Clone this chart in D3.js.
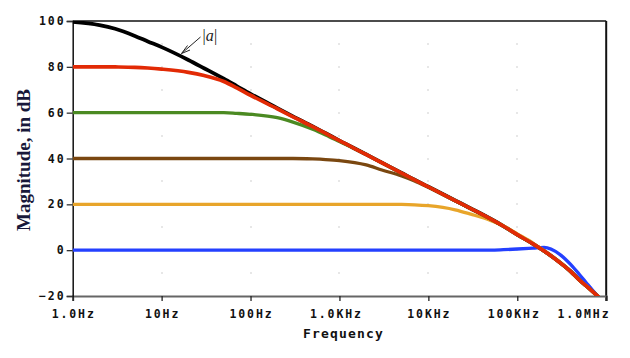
<!DOCTYPE html>
<html><head><meta charset="utf-8">
<script src="https://cdn.jsdelivr.net/npm/d3@7"></script>
<style>html,body{margin:0;padding:0;background:#fff;}svg{display:block;}</style>
</head><body>
<svg id="chart" width="630" height="358"></svg>
<script>
// ---- data ----
const freqs = [1,2,3,5,7,10,20,30,50,70,100,200,300,500,700,1e3,2e3,3e3,5e3,7e3,1e4,2e4,3e4,5e4,7e4,1e5,1.5e5,2e5,3e5,4e5,5e5,6e5,7e5,8e5,1e6];
const openLoop = [99.6,98.2,96.6,93.5,91.1,88.6,83.0,79.4,74.8,71.6,68.2,62.0,58.4,54.0,51.0,47.8,41.8,38.2,33.7,30.7,27.7,21.7,18.2,13.7,10.5,6.8,2.8,-0.3,-5.3,-9.3,-13.0,-15.6,-17.9,-20.0,-24.0];
const gain80 = [80,80,79.95,79.8,79.5,79.0,77.6,76.2,73.6,70.8,67.6,61.7,58.2,53.9,50.95,47.75,41.75,38.15,33.65,30.65,27.65,21.65,18.15,13.65,10.45,6.75,2.75,-0.35,-5.35,-9.35,-13.05,-15.65,-17.95,-20.05,-24.0];
const gain60 = [60,60,60,60,60,60,60,60,60,59.7,59.3,57.8,55.9,52.8,50.3,47.4,41.7,38.1,33.6,30.6,27.6,21.6,18.1,13.6,10.4,6.7,2.7,-0.4,-5.4,-9.4,-13.1,-15.7,-18.0,-20.1,-24.0];
const gain40 = [40,40,40,40,40,40,40,40,40,40,40,40,40,39.8,39.55,39.1,37.2,35.0,32.4,30.2,27.4,21.55,18.05,13.55,10.4,6.7,2.7,-0.4,-5.4,-9.4,-13.1,-15.7,-18.0,-20.1,-24.0];
const gain20 = [20,20,20,20,20,20,20,20,20,20,20,20,20,20,20,20,20,20,19.95,19.8,19.4,17.6,15.7,13.0,10.6,7.1,3.1,-0.2,-5.2,-9.3,-13.0,-15.6,-17.9,-20.0,-24.0];
const gain0 = [0,0,0,0,0,0,0,0,0,0,0,0,0,0,0,0,0,0,0,0,0,0,0,0,0.2,0.5,0.9,1.2,-1.8,-6.3,-10.6,-14.3,-17.4,-20.0,-24.5];
const xTicks = [1,10,100,1e3,1e4,1e5,1e6];
const xTickLabels = ["1.0Hz","10Hz","100Hz","1.0KHz","10KHz","100KHz","1.0MHz"];
const yTicks = [-20,0,20,40,60,80,100];
const gridDb = [-10,0,10,20,30,40,50,60,70,80,90];
const seriesNames = ["|a|","80 dB","60 dB","40 dB","20 dB","0 dB"];

// ---- layout ----
const L = 72.7, R = 606.2, T = 21, B = 296;
const svg = d3.select("#chart");
const x = d3.scaleLog().domain([1,1e6]).range([L,R]);
const y = d3.scaleLinear().domain([-20,100]).range([B,T]);

svg.append("defs").append("clipPath").attr("id","clip")
  .append("rect").attr("x",L).attr("y",T).attr("width",R-L).attr("height",B-T);

// grid dots
const gdots = svg.append("g");
xTicks.slice(1,-1).forEach(f=>{
  gridDb.forEach(v=>{
    gdots.append("rect").attr("x",Math.round(x(f))-0.5).attr("y",Math.round(y(v))-0.5)
      .attr("width",1).attr("height",1).attr("fill","#a0a0a0");
  });
});

// frame: top and right
svg.append("line").attr("x1",L).attr("x2",R).attr("y1",T).attr("y2",T).attr("stroke","#111").attr("stroke-width",1.5);
svg.append("line").attr("x1",R).attr("x2",R).attr("y1",T).attr("y2",B+5).attr("stroke","#111").attr("stroke-width",2);

const tickFont = "'DejaVu Sans Mono', monospace";
// x axis
const xAxis = d3.axisBottom(x).tickValues(xTicks).tickSize(5).tickFormat("");
const gx = svg.append("g").attr("transform",`translate(0,${B})`).call(xAxis);
gx.select(".domain").attr("stroke","#666").attr("stroke-width",2);
gx.selectAll(".tick line").attr("stroke","#222").attr("stroke-width",1.3);
xTicks.forEach((f,i)=>{
  const last = i===xTicks.length-1;
  const lab = xTickLabels[i];
  const shift = lab.length===6 && !last ? -4 : 0;
  svg.append("text").text(lab)
    .attr("x", last ? 610.5 : x(f)+shift+1)
    .attr("y",317.5)
    .attr("text-anchor", last ? "end" : "middle")
    .attr("font-family",tickFont).attr("font-weight","bold").attr("font-size","11.5px")
    .attr("letter-spacing","1.9px").attr("fill","#111");
});

// y axis
const yAxis = d3.axisLeft(y).tickValues(yTicks).tickSize(6).tickFormat("");
const gy = svg.append("g").attr("transform",`translate(${L},0)`).call(yAxis);
gy.select(".domain").attr("stroke","#111").attr("stroke-width",1.5);
gy.selectAll(".tick line").attr("stroke","#333").attr("stroke-width",1.3);
yTicks.forEach(v=>{
  svg.append("text").text(String(v).replace("-","\u2212"))
    .attr("x",65.5).attr("y",y(v)+4)
    .attr("text-anchor","end")
    .attr("font-family",tickFont).attr("font-weight","bold").attr("font-size","11.5px")
    .attr("letter-spacing","1.9px").attr("fill","#111");
});

// axis titles
svg.append("text").text("Frequency").attr("x",343.5).attr("y",337.5).attr("text-anchor","middle")
  .attr("font-family",tickFont).attr("font-weight","bold").attr("font-size","13px")
  .attr("letter-spacing","1.2px").attr("fill","#111");
svg.append("text").text("Magnitude, in dB")
  .attr("transform","translate(30,160) rotate(-90)").attr("text-anchor","middle")
  .attr("font-family","'Liberation Serif', 'Times New Roman', serif").attr("font-weight","bold")
  .attr("font-size","19px").attr("fill","#18183a");

// curves
const line = d3.line().x((d,i)=>x(freqs[i])).y(d=>y(d)).curve(d3.curveMonotoneX);
const series = [
  {name:seriesNames[0], values:openLoop, color:"#000000", w:3.8},
  {name:seriesNames[5], values:gain0, color:"#2440ff", w:3.3},
  {name:seriesNames[4], values:gain20, color:"#e8a52a", w:3.3},
  {name:seriesNames[3], values:gain40, color:"#7a4710", w:3.3},
  {name:seriesNames[2], values:gain60, color:"#4b8a22", w:3.3},
  {name:seriesNames[1], values:gain80, color:"#e22a05", w:3.7}
];
const gl = svg.append("g").attr("clip-path","url(#clip)");
series.forEach(s=>{
  gl.append("path").datum(s.values).attr("d",line)
    .attr("fill","none").attr("stroke",s.color).attr("stroke-width",s.w)
    .attr("stroke-linejoin","round");
});

// |a| annotation
const ann = svg.append("g");
ann.append("line").attr("x1",200.5).attr("y1",37).attr("x2",181.5).attr("y2",53.5).attr("stroke","#222").attr("stroke-width",1);
ann.append("path").attr("d","M187.5,45.5 L181.5,53.5 L190,50").attr("fill","none").attr("stroke","#222").attr("stroke-width",1);
ann.append("text").text("|").attr("x",202.5).attr("y",41).attr("font-family","'Liberation Serif', serif").attr("font-size","16px").attr("fill","#222");
ann.append("text").text("a").attr("x",205.8).attr("y",40.5).attr("font-family","'Liberation Serif', serif").attr("font-style","italic").attr("font-size","16px").attr("fill","#222");
ann.append("text").text("|").attr("x",214).attr("y",41).attr("font-family","'Liberation Serif', serif").attr("font-size","16px").attr("fill","#222");
</script>
</body></html>
